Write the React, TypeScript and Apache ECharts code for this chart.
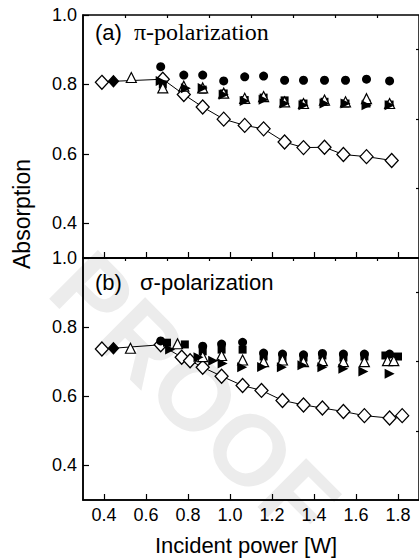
import React, { useEffect, useRef } from "react";
import * as echarts from "echarts";

const xMajor = [0.4, 0.6, 0.8, 1.0, 1.2, 1.4, 1.6, 1.8];
const xMinor = [0.5, 0.7, 0.9, 1.1, 1.3, 1.5, 1.7];
const yMajor = [0.4, 0.6, 0.8, 1.0];
const yMinor = [0.5, 0.7, 0.9];

// (a) pi-polarization
const aDiamondX = [0.39, 0.445, 0.68, 0.78, 0.87, 0.97, 1.07, 1.16, 1.26, 1.35, 1.45, 1.54, 1.65, 1.77];
const aDiamondY = [0.806, 0.809, 0.815, 0.771, 0.735, 0.70, 0.682, 0.672, 0.634, 0.618, 0.619, 0.598, 0.592, 0.581];
const aCircleX = [0.67, 0.78, 0.87, 0.97, 1.07, 1.16, 1.26, 1.35, 1.45, 1.55, 1.65, 1.76];
const aCircleY = [0.851, 0.827, 0.827, 0.81, 0.822, 0.824, 0.812, 0.812, 0.812, 0.812, 0.815, 0.81];
const aSquareX = [0.68, 0.87, 0.97, 1.07, 1.16, 1.26, 1.35, 1.45, 1.55, 1.65, 1.76];
const aSquareY = [0.80, 0.785, 0.774, 0.755, 0.762, 0.754, 0.745, 0.75, 0.745, 0.745, 0.742];
const aOpenTriX = [0.53, 0.68, 0.78, 0.87, 0.97, 1.07, 1.16, 1.26, 1.35, 1.45, 1.55, 1.65, 1.76];
const aOpenTriY = [0.82, 0.79, 0.795, 0.79, 0.775, 0.76, 0.765, 0.75, 0.745, 0.755, 0.75, 0.759, 0.745];
const aRightTriX = [0.67, 0.79, 0.87, 0.97, 1.07, 1.16, 1.26, 1.35, 1.45, 1.55, 1.65, 1.76];
const aRightTriY = [0.81, 0.789, 0.79, 0.77, 0.752, 0.756, 0.745, 0.74, 0.745, 0.745, 0.74, 0.74];

// (b) sigma-polarization
const bDiamondX = [0.39, 0.445, 0.67, 0.77, 0.81, 0.87, 0.96, 1.06, 1.15, 1.25, 1.35, 1.44, 1.54, 1.64, 1.76, 1.82];
const bDiamondY = [0.737, 0.739, 0.749, 0.713, 0.703, 0.684, 0.658, 0.631, 0.617, 0.588, 0.575, 0.566, 0.556, 0.544, 0.537, 0.544];
const bCircleX = [0.67, 0.87, 0.96, 1.06, 1.16, 1.25, 1.35, 1.44, 1.54, 1.64, 1.76];
const bCircleY = [0.76, 0.745, 0.751, 0.756, 0.725, 0.722, 0.72, 0.724, 0.722, 0.722, 0.722];
const bSquareX = [0.70, 0.785, 0.87, 0.96, 1.06, 1.16, 1.25, 1.35, 1.44, 1.54, 1.64, 1.74, 1.80];
const bSquareY = [0.755, 0.75, 0.73, 0.735, 0.735, 0.715, 0.712, 0.712, 0.718, 0.712, 0.715, 0.718, 0.715];
const bOpenTriX = [0.526, 0.75, 0.87, 0.96, 1.06, 1.16, 1.25, 1.35, 1.44, 1.54, 1.64, 1.75, 1.78];
const bOpenTriY = [0.739, 0.752, 0.715, 0.718, 0.705, 0.70, 0.705, 0.70, 0.703, 0.70, 0.70, 0.703, 0.703];
const bRightTriX = [0.715, 0.85, 0.92, 0.965, 1.058, 1.153, 1.247, 1.345, 1.44, 1.54, 1.635, 1.76];
const bRightTriY = [0.735, 0.713, 0.703, 0.695, 0.684, 0.685, 0.684, 0.69, 0.684, 0.68, 0.672, 0.665];

const FILLED_DIAMOND_INDEX = 1;

const zip = (xs: number[], ys: number[]) => xs.map((x, i) => [x, ys[i]]);

const SANS = "Liberation Sans, Arial, sans-serif";
const SERIF = "Liberation Serif, Times New Roman, serif";

function panelSeries(
  gi: number,
  dX: number[], dY: number[],
  cX: number[], cY: number[],
  sX: number[], sY: number[],
  oX: number[], oY: number[],
  rX: number[], rY: number[]
) {
  const xAxisIndex = gi * 2;
  const yAxisIndex = gi * 2;
  return [
    {
      type: "line",
      xAxisIndex, yAxisIndex,
      data: zip(dX, dY).map((p, i) =>
        i === FILLED_DIAMOND_INDEX
          ? { value: p, symbolSize: [10, 11], itemStyle: { color: "#000" } }
          : { value: p }
      ),
      symbol: "diamond",
      symbolSize: [13, 14],
      lineStyle: { color: "#000", width: 1 },
      itemStyle: { color: "#fff", borderColor: "#000", borderWidth: 1.3, opacity: 1 },
      z: 3,
    },
    {
      type: "scatter",
      xAxisIndex, yAxisIndex,
      data: zip(cX, cY),
      symbol: "circle",
      symbolSize: 9,
      itemStyle: { color: "#000", opacity: 1 },
      z: 4,
    },
    {
      type: "scatter",
      xAxisIndex, yAxisIndex,
      data: zip(sX, sY),
      symbol: "rect",
      symbolSize: 8,
      itemStyle: { color: "#000", opacity: 1 },
      z: 4,
    },
    {
      type: "scatter",
      xAxisIndex, yAxisIndex,
      data: zip(oX, oY),
      symbol: "triangle",
      symbolSize: 10,
      itemStyle: { color: "#fff", borderColor: "#000", borderWidth: 1.2, opacity: 1 },
      z: 5,
    },
    {
      type: "scatter",
      xAxisIndex, yAxisIndex,
      data: zip(rX, rY),
      symbol: "triangle",
      symbolRotate: -90,
      symbolSize: 10,
      itemStyle: { color: "#000", opacity: 1 },
      z: 5,
    },
  ];
}

function axesFor(gi: number, showXLabels: boolean) {
  const xMain = {
    type: "value",
    gridIndex: gi,
    min: 0.3,
    max: 1.9,
    axisLine: { show: true, lineStyle: { color: "#000", width: 1.5 } },
    axisTick: { show: true, inside: true, length: 6, customValues: xMajor, lineStyle: { color: "#000", width: 1.2 } },
    axisLabel: {
      show: showXLabels,
      customValues: xMajor,
      formatter: (v: number) => v.toFixed(1),
      fontFamily: SANS,
      fontSize: 18,
      color: "#000",
      margin: 6,
    },
    splitLine: { show: false },
  };
  const xMin = {
    type: "value",
    gridIndex: gi,
    min: 0.3,
    max: 1.9,
    axisLine: { show: false },
    axisTick: { show: true, inside: true, length: 3, customValues: xMinor, lineStyle: { color: "#000", width: 1.2 } },
    axisLabel: { show: false },
    splitLine: { show: false },
  };
  const yMain = {
    type: "value",
    gridIndex: gi,
    min: 0.3,
    max: 1.0,
    axisLine: { show: true, lineStyle: { color: "#000", width: 1.5 } },
    axisTick: { show: true, inside: true, length: 6, customValues: yMajor, lineStyle: { color: "#000", width: 1.2 } },
    axisLabel: {
      show: true,
      customValues: yMajor,
      formatter: (v: number) => v.toFixed(1),
      fontFamily: SANS,
      fontSize: 18,
      color: "#000",
      margin: 6,
    },
    splitLine: { show: false },
  };
  const yMin = {
    type: "value",
    gridIndex: gi,
    min: 0.3,
    max: 1.0,
    axisLine: { show: false },
    axisTick: { show: true, inside: true, length: 3, customValues: yMinor, lineStyle: { color: "#000", width: 1.2 } },
    axisLabel: { show: false },
    splitLine: { show: false },
  };
  return { x: [xMain, xMin], y: [yMain, yMin] };
}

export default function App() {
  const ref = useRef<HTMLDivElement>(null);
  useEffect(() => {
    if (!ref.current) return;
    const chart = echarts.init(ref.current, null, { renderer: "svg" });
    const a0 = axesFor(0, false);
    const a1 = axesFor(1, true);
    chart.setOption({
      animation: false,
      backgroundColor: "#fff",
      grid: [
        { left: 83, top: 15, width: 339, height: 243, show: true, borderColor: "#000", borderWidth: 1.5, backgroundColor: "transparent" },
        { left: 83, top: 258, width: 339, height: 242, show: true, borderColor: "#000", borderWidth: 1.5, backgroundColor: "transparent" },
      ],
      xAxis: [...a0.x, ...a1.x],
      yAxis: [...a0.y, ...a1.y],
      graphic: [
        {
          type: "text",
          x: 195,
          y: 395,
          rotation: -Math.PI / 4,
          z: -10,
          silent: true,
          style: {
            text: "PROOF",
            fontFamily: SANS,
            fontWeight: "bold",
            fontSize: 100,
            fill: "#ececec",
            align: "center",
            verticalAlign: "middle",
          },
        },
        {
          type: "text",
          left: 95,
          top: 21,
          style: { text: "(a)", fontFamily: SANS, fontSize: 22, fill: "#000" },
          z: 10,
        },
        {
          type: "text",
          left: 134,
          top: 20,
          style: { text: "π-polarization", fontFamily: SERIF, fontSize: 24, fill: "#000" },
          z: 10,
        },
        {
          type: "text",
          left: 95,
          top: 271,
          style: { text: "(b)", fontFamily: SANS, fontSize: 22, fill: "#000" },
          z: 10,
        },
        {
          type: "text",
          left: 140,
          top: 271,
          style: { text: "σ-polarization", fontFamily: SANS, fontSize: 22, fill: "#000" },
          z: 10,
        },
        {
          type: "text",
          x: 22,
          y: 214,
          rotation: Math.PI / 2,
          style: {
            text: "Absorption",
            fontFamily: SANS,
            fontSize: 23,
            fill: "#000",
            align: "center",
            verticalAlign: "middle",
          },
          z: 10,
        },
        {
          type: "text",
          x: 246,
          y: 545,
          style: {
            text: "Incident power [W]",
            fontFamily: SANS,
            fontSize: 22,
            fill: "#000",
            align: "center",
            verticalAlign: "middle",
          },
          z: 10,
        },
      ],
      series: [
        ...panelSeries(0, aDiamondX, aDiamondY, aCircleX, aCircleY, aSquareX, aSquareY, aOpenTriX, aOpenTriY, aRightTriX, aRightTriY),
        ...panelSeries(1, bDiamondX, bDiamondY, bCircleX, bCircleY, bSquareX, bSquareY, bOpenTriX, bOpenTriY, bRightTriX, bRightTriY),
      ],
    });
    return () => chart.dispose();
  }, []);
  return (
    <div
      ref={ref}
      style={{ position: "fixed", left: 0, top: 0, width: 419, height: 559 }}
    />
  );
}
